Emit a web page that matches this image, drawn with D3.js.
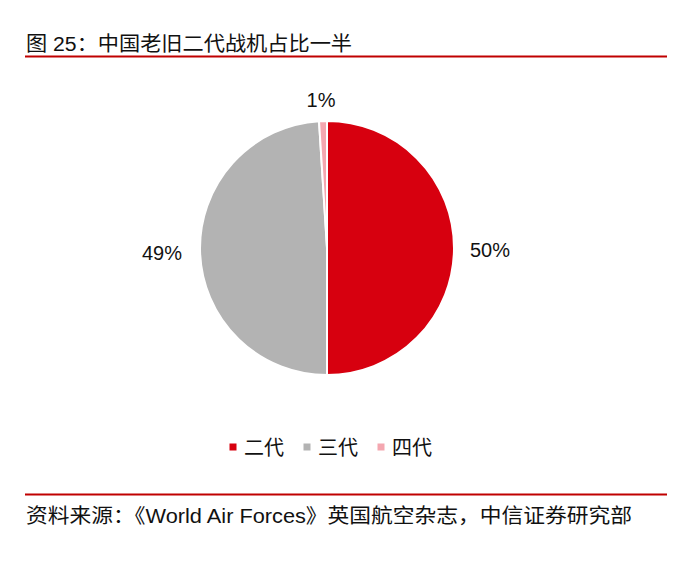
<!DOCTYPE html>
<html><head><meta charset="utf-8">
<script src="https://cdn.jsdelivr.net/npm/d3@7/dist/d3.min.js"></script>
<style>body{margin:0;background:#fff;} svg{display:block;font-family:"Liberation Sans",Arial,"Noto Sans CJK SC",sans-serif;}</style>
</head><body>
<svg id="c" width="696" height="563"></svg>
<script>
const categories = ["二代", "三代", "四代"];
const values = [50, 49, 1];
const labels = ["50%", "49%", "1%"];
const colors = ["#D7000F", "#B3B3B3", "#F4A7B0"];

const svg = d3.select("#c");
const cjk = '"Liberation Sans","Noto Sans CJK SC",sans-serif';

svg.append("text").attr("x", 26).attr("y", 51).attr("font-size", 20).attr("font-family", cjk)
  .attr("fill", "#111").attr("textLength", 326).attr("lengthAdjust", "spacingAndGlyphs")
  .text("图 25：中国老旧二代战机占比一半");
svg.append("line").attr("x1", 25).attr("x2", 667).attr("y1", 56.5).attr("y2", 56.5).attr("stroke", "#C00000").attr("stroke-width", 2);

const cx = 327, cy = 248, r = 127;
const pie = d3.pie().sort(null).value(d => d)(values);
const arc = d3.arc().innerRadius(0).outerRadius(r);
const g = svg.append("g").attr("transform", `translate(${cx},${cy})`);
g.selectAll("path").data(pie).join("path").attr("d", arc)
  .attr("fill", (d, i) => colors[i]).attr("stroke", "#fff").attr("stroke-width", 2);

const lblPos = [[490, 250], [162, 253], [321, 100]];
svg.selectAll("text.lbl").data(labels).join("text").attr("class", "lbl")
  .attr("x", (d, i) => lblPos[i][0]).attr("y", (d, i) => lblPos[i][1] + 7)
  .attr("text-anchor", "middle").attr("font-size", 20).attr("font-family", '"Liberation Sans",Arial,sans-serif')
  .attr("fill", "#111").text(d => d);

const legX = [233, 307, 381];
const leg = svg.selectAll("g.leg").data(categories).join("g").attr("class", "leg")
  .attr("transform", (d, i) => `translate(${legX[i]},447)`);
leg.append("rect").attr("x", -3.5).attr("y", -3.5).attr("width", 7).attr("height", 7).attr("fill", (d, i) => colors[i]);
leg.append("text").attr("x", 11).attr("y", 7.5).attr("font-size", 20).attr("font-family", cjk).attr("fill", "#111").text(d => d);

svg.append("line").attr("x1", 25).attr("x2", 667).attr("y1", 494.5).attr("y2", 494.5).attr("stroke", "#C00000").attr("stroke-width", 2);
svg.append("text").attr("x", 26).attr("y", 523).attr("font-size", 20).attr("font-family", cjk)
  .attr("fill", "#111").attr("textLength", 606).attr("lengthAdjust", "spacingAndGlyphs")
  .text("资料来源：《World Air Forces》英国航空杂志，中信证券研究部");
</script>
</body></html>
